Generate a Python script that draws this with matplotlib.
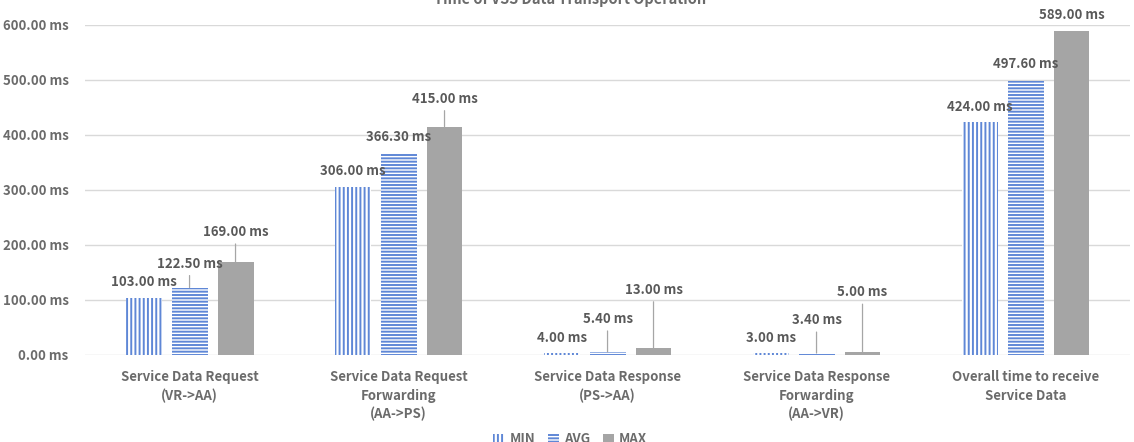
import matplotlib.pyplot as plt
import numpy as np
from matplotlib.patches import Patch

plt.rcParams['font.family'] = ['Noto Sans CJK KR', 'DejaVu Sans']
plt.rcParams['font.weight'] = 'bold'
plt.rcParams['hatch.linewidth'] = 1.4

categories = ['Service Data Request\n(VR->AA)',
              'Service Data Request\nForwarding\n(AA->PS)',
              'Service Data Response\n(PS->AA)',
              'Service Data Response\nForwarding\n(AA->VR)',
              'Overall time to receive\nService Data']
series = ['MIN', 'AVG', 'MAX']
min_ms = [103.00, 306.00, 4.00, 3.00, 424.00]
avg_ms = [122.50, 366.30, 5.40, 3.40, 497.60]
max_ms = [169.00, 415.00, 13.00, 5.00, 589.00]
yticks = [0, 100, 200, 300, 400, 500, 600]
title = 'Time of VSS Data Transport Operation'

# label lift above bar top (pixels), per group x series (MIN, AVG, MAX)
label_lift = [[16, 24, 30], [16, 16, 28], [15, 33, 58], [15, 33, 60], [15, 17, 16]]

text_c = '#6b6b6b'
blue = '#5f87d6'
grey = '#a5a5a5'

fig = plt.figure(figsize=(11.34, 4.42), dpi=100)
ax = fig.add_axes([0.075, 0.197, 0.9215, 0.7466])

x = np.arange(len(categories))
step = 0.22
width = 0.172
styles = [dict(facecolor='white', edgecolor=blue, hatch='||||', linewidth=0),
          dict(facecolor='white', edgecolor=blue, hatch='-----', linewidth=0),
          dict(facecolor=grey, edgecolor=grey, linewidth=0)]

for i, vals in enumerate([min_ms, avg_ms, max_ms]):
    xs = x + (i - 1) * step
    ax.bar(xs, vals, width, zorder=3, **styles[i])
    for g, (xx, v) in enumerate(zip(xs, vals)):
        lift = label_lift[g][i]
        ax.annotate('%.2f ms' % v, xy=(xx, v), xytext=(0, lift),
                    textcoords='offset pixels', ha='center', va='center',
                    fontsize=9.5, color='#595959', zorder=5)
        if lift >= 24:
            ax.annotate('', xy=(xx, v), xytext=(0, lift - 12),
                        textcoords='offset pixels',
                        arrowprops=dict(arrowstyle='-', color='#a6a6a6',
                                        lw=0.9, shrinkA=0, shrinkB=0))

ax.set_xlim(-0.5, 4.5)
ax.set_ylim(0, 600)
ax.set_yticks(yticks)
ax.set_yticklabels(['%.2f ms' % t for t in yticks], fontsize=9.5, color=text_c)
ax.set_xticks(x)
ax.set_xticklabels(categories, fontsize=9.5, color=text_c, linespacing=1.4)
ax.tick_params(axis='both', length=0)
ax.tick_params(axis='y', pad=12)
ax.tick_params(axis='x', pad=11)
ax.grid(axis='y', color='#d9d9d9', linewidth=1)
ax.set_axisbelow(True)
for s in ax.spines.values():
    s.set_visible(False)

fig.text(0.503, 0.991, title, ha='center', va='baseline', fontsize=10.5,
         fontweight='bold', color=text_c)

handles = [Patch(**styles[0]), Patch(**styles[1]), Patch(**styles[2])]
fig.legend(handles, series, loc='center', bbox_to_anchor=(0.503, 0.006),
           ncol=3, frameon=False, fontsize=9.5, handlelength=0.8,
           handleheight=0.8, columnspacing=1.0, handletextpad=0.4,
           labelcolor=text_c)

fig.savefig('out.png', dpi=100)
